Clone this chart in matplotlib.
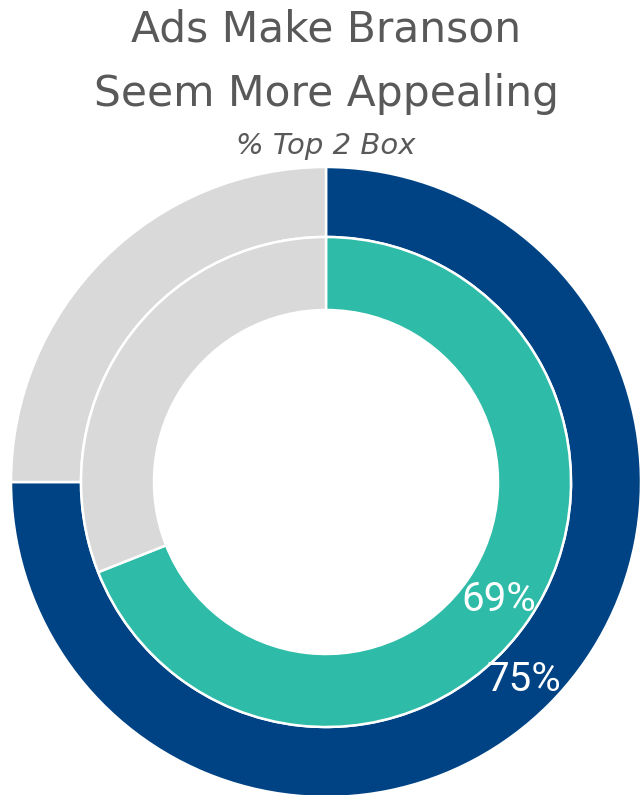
import matplotlib
matplotlib.use("Agg")
import matplotlib.pyplot as plt
import numpy as np

# Share of respondents in the top-2 box, outer and inner ring
outer_values = [75, 25]
inner_values = [69, 31]
outer_colors = ["#004385", "#D9D9D9"]
inner_colors = ["#2EBBA7", "#D9D9D9"]
outer_label = "75%"
inner_label = "69%"
title_lines = ["Ads Make Branson", "Seem More Appealing"]
subtitle = "% Top 2 Box"

W, H = 641, 795
fig = plt.figure(figsize=(W / 100, H / 100), dpi=100)
fig.patch.set_facecolor("white")

# square axes centred on the donut
cx, cy, R = 326, 482, 315
ax = fig.add_axes([(cx - R) / W, 1 - (cy + R) / H, 2 * R / W, 2 * R / H])

r_outer = 1.0
r_mid = 245 / R
r_hole = 172 / R

wedge_kw = dict(edgecolor="white", linewidth=1.8)
w_out, _ = ax.pie(outer_values, colors=outer_colors, radius=r_outer, startangle=90,
                  counterclock=False, wedgeprops=dict(width=r_outer - r_mid, **wedge_kw))
w_in, _ = ax.pie(inner_values, colors=inner_colors, radius=r_mid, startangle=90,
                 counterclock=False, wedgeprops=dict(width=r_mid - r_hole, **wedge_kw))
for w in list(w_out) + list(w_in):
    w.set_clip_on(False)

ax.set_xlim(-1, 1)
ax.set_ylim(-1, 1)
ax.set_aspect("equal")
ax.axis("off")


def mid_point(values, radius):
    frac = values[0] / sum(values)
    ang = np.deg2rad(90 - 360 * frac / 2)
    return radius * np.cos(ang), radius * np.sin(ang)


lab_font = dict(family="Roboto", color="white", fontsize=29, ha="center", va="center")
x, y = mid_point(outer_values, (r_outer + r_mid) / 2)
ax.text(x, y, outer_label, **lab_font)
x, y = mid_point(inner_values, (r_mid + r_hole) / 2)
ax.text(x, y, inner_label, **lab_font)

title_font = dict(family="DejaVu Sans", color="#595959", fontsize=30.5, ha="center", va="baseline")
fig.text(cx / W, 1 - 42 / H, title_lines[0], **title_font)
fig.text(cx / W, 1 - 106 / H, title_lines[1], **title_font)
fig.text(cx / W, 1 - 154 / H, subtitle, family="DejaVu Sans", style="italic",
         color="#595959", fontsize=21, ha="center", va="baseline")

fig.savefig("out.png", dpi=100, facecolor="white")
